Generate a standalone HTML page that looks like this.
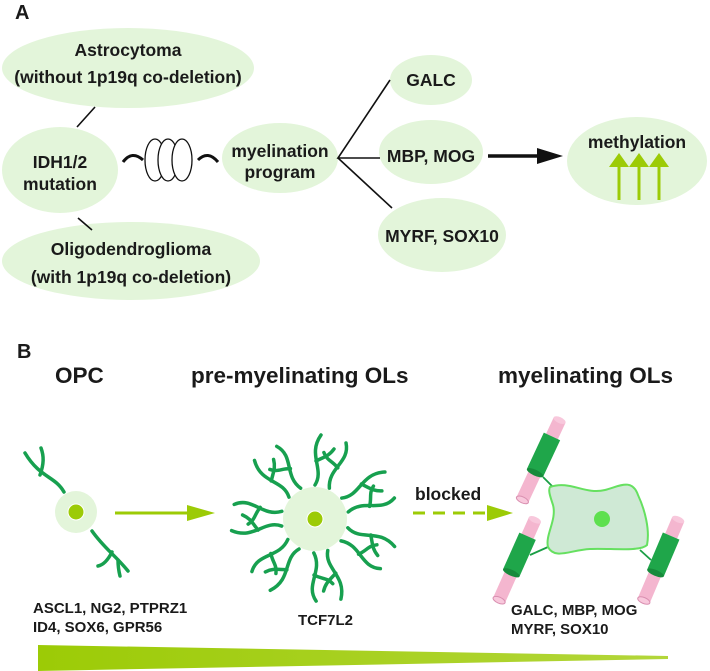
<!DOCTYPE html>
<html><head><meta charset="utf-8"><style>
html,body{margin:0;padding:0;background:#fff;}
svg{display:block;}
text{font-family:"Liberation Sans",Arial,sans-serif;font-weight:bold;fill:#1a1a1a;}
</style></head><body>
<svg width="710" height="671" viewBox="0 0 710 671" xmlns="http://www.w3.org/2000/svg">
<defs>
<linearGradient id="wg" x1="0" x2="1" y1="0" y2="0"><stop offset="0" stop-color="#9ccb06"/><stop offset="1" stop-color="#b3d63a"/></linearGradient>
<g id="cyl">
 <rect x="-6.5" y="-44" width="13" height="88" fill="#f4b6cf"/>
 <ellipse cx="0" cy="-44" rx="6.5" ry="3" fill="#f8c8dc"/>
 <ellipse cx="0" cy="44" rx="6.5" ry="3" fill="#f8c8dc" stroke="#d98fb0" stroke-width="1"/>
 <rect x="-9" y="-26" width="18" height="40" fill="#1fa64a"/>
 <ellipse cx="0" cy="14" rx="9" ry="3" fill="#178a3b"/>
</g>
<g id="proc">
 <path d="M0,-34 C10,-50 -8,-64 6,-84" fill="none" stroke="#17a04f" stroke-width="3.5" stroke-linecap="round"/>
 <path d="M1,-58 C9,-62 14,-63 19,-70" fill="none" stroke="#17a04f" stroke-width="3.5" stroke-linecap="round"/>
</g>
<g id="proc2">
 <path d="M0,-34 C-10,-52 8,-66 -4,-82" fill="none" stroke="#17a04f" stroke-width="3.5" stroke-linecap="round"/>
 <path d="M-1,-56 C-9,-60 -14,-58 -20,-64" fill="none" stroke="#17a04f" stroke-width="3.5" stroke-linecap="round"/>
</g>
</defs>

<text x="15" y="19" font-size="20">A</text>
<text x="17" y="358" font-size="20">B</text>

<!-- Panel A -->
<g fill="#e3f5da">
<ellipse cx="128" cy="68" rx="126" ry="40"/>
<ellipse cx="60" cy="170" rx="58" ry="43"/>
<ellipse cx="131" cy="261" rx="129" ry="39"/>
<ellipse cx="280" cy="158" rx="58" ry="35"/>
<ellipse cx="431" cy="80" rx="41" ry="25"/>
<ellipse cx="431" cy="152" rx="52" ry="32"/>
<ellipse cx="442" cy="235" rx="64" ry="37"/>
<ellipse cx="637" cy="161" rx="70" ry="44"/>
</g>
<g stroke="#111" stroke-width="1.6" fill="none">
<line x1="95" y1="107" x2="77" y2="127"/>
<line x1="78" y1="218" x2="92" y2="230"/>
<polyline points="390,80 338,158 380,158"/>
<line x1="338" y1="158" x2="392" y2="208"/>
<path d="M123,162 Q132,150 143,160" stroke-width="3"/>
<path d="M198,160 Q208,150 218,162" stroke-width="3"/>
</g>
<g stroke="#111" stroke-width="1.3" fill="#fff">
<ellipse cx="155" cy="160" rx="10" ry="21"/>
<ellipse cx="168" cy="160" rx="10" ry="21"/>
<ellipse cx="182" cy="160" rx="10" ry="21"/>
</g>
<line x1="488" y1="156" x2="540" y2="156" stroke="#111" stroke-width="3.5"/>
<polygon points="537,148 563,156 537,164" fill="#111"/>

<g font-size="17.5" text-anchor="middle">
<text x="128" y="56">Astrocytoma</text>
<text x="128" y="83">(without 1p19q co-deletion)</text>
<text x="60" y="168">IDH1/2</text>
<text x="60" y="190">mutation</text>
<text x="131" y="255">Oligodendroglioma</text>
<text x="131" y="283">(with 1p19q co-deletion)</text>
<text x="280" y="157">myelination</text>
<text x="280" y="178">program</text>
<text x="431" y="86">GALC</text>
<text x="431" y="162">MBP, MOG</text>
<text x="442" y="242">MYRF, SOX10</text>
<text x="637" y="148">methylation</text>
</g>
<g stroke="#9ccb06" stroke-width="3">
<line x1="619" y1="200" x2="619" y2="165"/>
<line x1="639" y1="200" x2="639" y2="165"/>
<line x1="659" y1="200" x2="659" y2="165"/>
</g>
<g fill="#9ccb06">
<polygon points="609,167 619,153 629,167"/>
<polygon points="629,167 639,153 649,167"/>
<polygon points="649,167 659,153 669,167"/>
</g>

<!-- Panel B headers -->
<g font-size="22.5">
<text x="55" y="383">OPC</text>
<text x="191" y="383">pre-myelinating OLs</text>
<text x="498" y="383">myelinating OLs</text>
</g>

<!-- OPC -->
<g fill="none" stroke="#17a04f" stroke-width="3.5" stroke-linecap="round">
<path d="M64,492 C55,476 40,478 25,453"/>
<path d="M40,475 C44,464 44,456 41,448"/>
<path d="M92,531 C104,548 115,555 128,571"/>
<path d="M112,552 C108,560 103,565 98,566"/>
<path d="M118,560 C118,568 119,572 120,576"/>
</g>
<circle cx="76" cy="512" r="21" fill="#e3f5da"/>
<circle cx="76" cy="512" r="8" fill="#9ccb06" stroke="#fff" stroke-width="1"/>

<line x1="115" y1="513" x2="190" y2="513" stroke="#9ccb06" stroke-width="3"/>
<polygon points="187,505 215,513 187,521" fill="#9ccb06"/>

<!-- pre-OL -->
<g transform="translate(315,519)">
<use href="#proc" transform="rotate(0)"/>
<use href="#proc2" transform="rotate(25)"/>
<use href="#proc" transform="rotate(52)"/>
<use href="#proc2" transform="rotate(78)"/>
<use href="#proc" transform="rotate(105)"/>
<use href="#proc2" transform="rotate(130)"/>
<use href="#proc" transform="rotate(158)"/>
<use href="#proc2" transform="rotate(182)"/>
<use href="#proc" transform="rotate(208)"/>
<use href="#proc2" transform="rotate(233)"/>
<use href="#proc" transform="rotate(258)"/>
<use href="#proc2" transform="rotate(283)"/>
<use href="#proc" transform="rotate(310)"/>
<use href="#proc2" transform="rotate(335)"/>
<circle r="32" fill="#e3f5da"/>
<circle r="8" fill="#9ccb06" stroke="#fff" stroke-width="1"/>
</g>

<!-- blocked -->
<text x="415" y="500" font-size="17.5">blocked</text>
<line x1="413" y1="513" x2="490" y2="513" stroke="#9ccb06" stroke-width="3" stroke-dasharray="12,8"/>
<polygon points="487,505 513,513 487,521" fill="#9ccb06"/>

<!-- myelinating OL -->
<g stroke="#1a9e45" stroke-width="1.8">
<line x1="543" y1="477" x2="553" y2="487"/>
<line x1="530" y1="555" x2="548" y2="547"/>
<line x1="640" y1="550" x2="651" y2="560"/>
</g>
<path d="M550,487 C570,480 585,495 605,490 C620,486 632,478 638,495 C645,510 650,530 647,545 C640,552 610,548 590,549 C570,550 555,560 548,547 C545,535 557,520 553,505 C550,496 548,490 550,487 Z" fill="#cfe9d5" stroke="#66e060" stroke-width="2"/>
<circle cx="602" cy="519" r="8" fill="#5ee04f"/>
<use href="#cyl" transform="translate(541,460) rotate(25)"/>
<use href="#cyl" transform="translate(517,560) rotate(24)"/>
<use href="#cyl" transform="translate(661,560) rotate(23)"/>

<!-- labels -->
<g font-size="15">
<text x="33" y="613">ASCL1, NG2, PTPRZ1</text>
<text x="33" y="632">ID4, SOX6, GPR56</text>
<text x="298" y="625">TCF7L2</text>
<text x="511" y="615">GALC, MBP, MOG</text>
<text x="511" y="634">MYRF, SOX10</text>
</g>

<polygon points="38,645 668,656 668,659 38,671" fill="url(#wg)"/>
</svg>
</body></html>
